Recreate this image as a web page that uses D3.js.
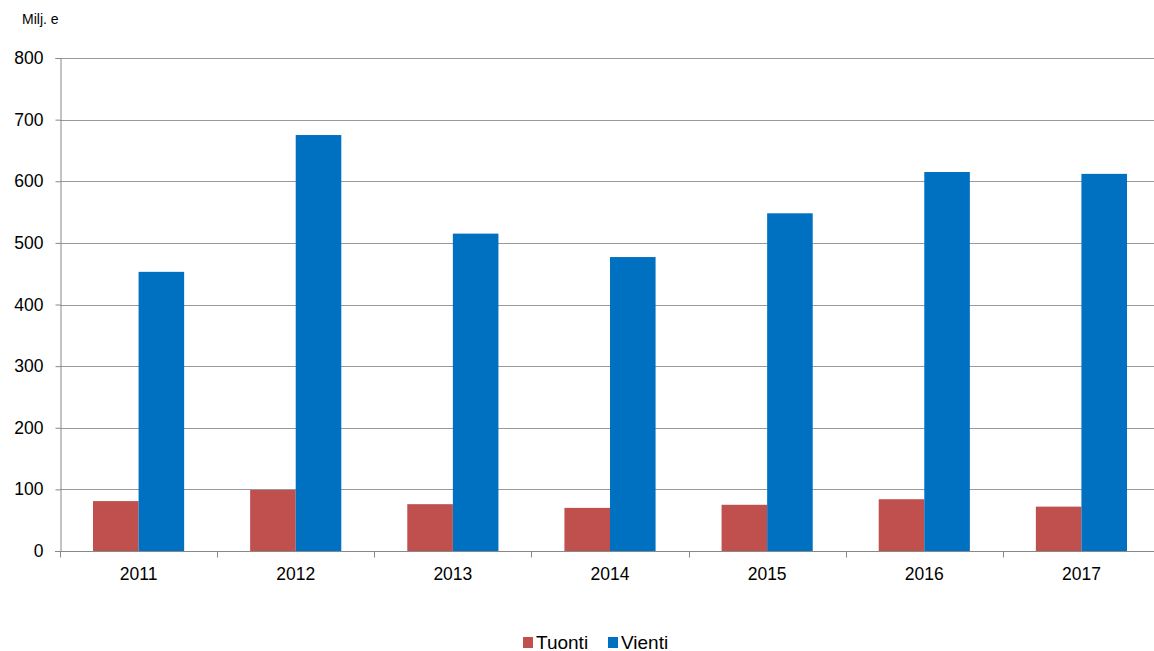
<!DOCTYPE html>
<html>
<head>
<meta charset="utf-8">
<script src="https://cdn.jsdelivr.net/npm/d3@7"></script>
<style>
  body { margin: 0; background: #fff; }
  svg { font-family: "Liberation Sans", Arial, sans-serif; }
</style>
</head>
<body>
<div id="chart"></div>
<script>
// Values (Milj. e)
const years = ['2011', '2012', '2013', '2014', '2015', '2016', '2017']
const tuonti = [81, 99, 76, 70, 75, 84, 72]
const vienti = [453, 675, 515, 477, 548, 615, 612]
const seriesNames = ['Tuonti', 'Vienti']
const seriesColors = ['#C0504D', '#0070C0']
const yTicks = [0, 100, 200, 300, 400, 500, 600, 700, 800]

const width = 1154
const height = 651
const margin = { top: 58, right: -6, bottom: 100, left: 60 }
const innerWidth = width - margin.left - margin.right
const innerHeight = height - margin.top - margin.bottom

const svg = d3.select('#chart').append('svg')
  .attr('width', width)
  .attr('height', height)

const g = svg.append('g')
  .attr('transform', `translate(${margin.left},${margin.top})`)

// --- SCALES ---
const x = d3.scaleBand()
  .domain(years)
  .range([0, innerWidth])
  .paddingInner(0)
  .paddingOuter(0)

const xInner = d3.scaleBand()
  .domain(seriesNames)
  .range([x.bandwidth() * 0.21, x.bandwidth() * 0.79])

const y = d3.scaleLinear()
  .domain([0, 800])
  .range([innerHeight, 0])

// gridlines
g.append('g')
  .selectAll('line')
  .data(yTicks.filter(d => d > 0))
  .enter().append('line')
  .attr('x1', 0)
  .attr('x2', innerWidth)
  .attr('y1', d => Math.round(y(d)) + 0.5)
  .attr('y2', d => Math.round(y(d)) + 0.5)
  .style('stroke', '#999')
  .style('stroke-width', 1)

// --- BARS ---
const rows = years.map((yr, i) => ({ year: yr, values: [tuonti[i], vienti[i]] }))

const groups = g.selectAll('.year')
  .data(rows)
  .enter().append('g')
  .attr('class', 'year')
  .attr('transform', d => `translate(${x(d.year)},0)`)

groups.selectAll('rect')
  .data(d => d.values.map((v, j) => ({ name: seriesNames[j], value: v, color: seriesColors[j] })))
  .enter().append('rect')
  .attr('x', d => xInner(d.name))
  .attr('width', xInner.bandwidth())
  .attr('y', d => y(d.value))
  .attr('height', d => innerHeight - y(d.value))
  .style('fill', d => d.color)

// --- AXES ---
const yAxis = g.append('g')
  .attr('transform', 'translate(0.5,0)')
  .call(d3.axisLeft(y).tickValues(yTicks).tickSize(5).tickPadding(12))
yAxis.select('.domain').style('stroke', '#888')
yAxis.selectAll('.tick line').style('stroke', '#888')
yAxis.selectAll('text')
  .style('font-size', '17.5px')
  .style('font-family', '"Liberation Sans", Arial, sans-serif')
  .style('fill', '#000')

const xAxis = g.append('g')
  .attr('transform', `translate(0,${Math.round(innerHeight) + 0.5})`)
xAxis.append('line')
  .attr('x1', -5)
  .attr('x2', innerWidth)
  .style('stroke', '#888')
xAxis.selectAll('.tickmark')
  .data(years.concat(['end']))
  .enter().append('line')
  .attr('class', 'tickmark')
  .attr('x1', (d, i) => Math.round(i * x.step()) + 0.5)
  .attr('x2', (d, i) => Math.round(i * x.step()) + 0.5)
  .attr('y1', 0)
  .attr('y2', 6)
  .style('stroke', '#888')
xAxis.selectAll('.label')
  .data(years)
  .enter().append('text')
  .attr('class', 'label')
  .attr('x', d => x(d) + x.bandwidth() / 2)
  .attr('y', 28)
  .attr('text-anchor', 'middle')
  .style('font-size', '17.5px')
  .text(d => d)

// unit label
svg.append('text')
  .attr('x', 22)
  .attr('y', 24)
  .style('font-size', '14px')
  .text('Milj. e')

// --- LEGEND ---
const legend = svg.append('g')
  .attr('transform', 'translate(523,642)')
const legendX = [0, 85]
seriesNames.forEach((name, i) => {
  const item = legend.append('g').attr('transform', `translate(${legendX[i]},0)`)
  item.append('rect')
    .attr('x', 0)
    .attr('y', -5)
    .attr('width', 10)
    .attr('height', 11)
    .style('fill', seriesColors[i])
  item.append('text')
    .attr('x', 13)
    .attr('y', 6.5)
    .style('font-size', '19px')
    .text(name)
})
</script>
</body>
</html>
